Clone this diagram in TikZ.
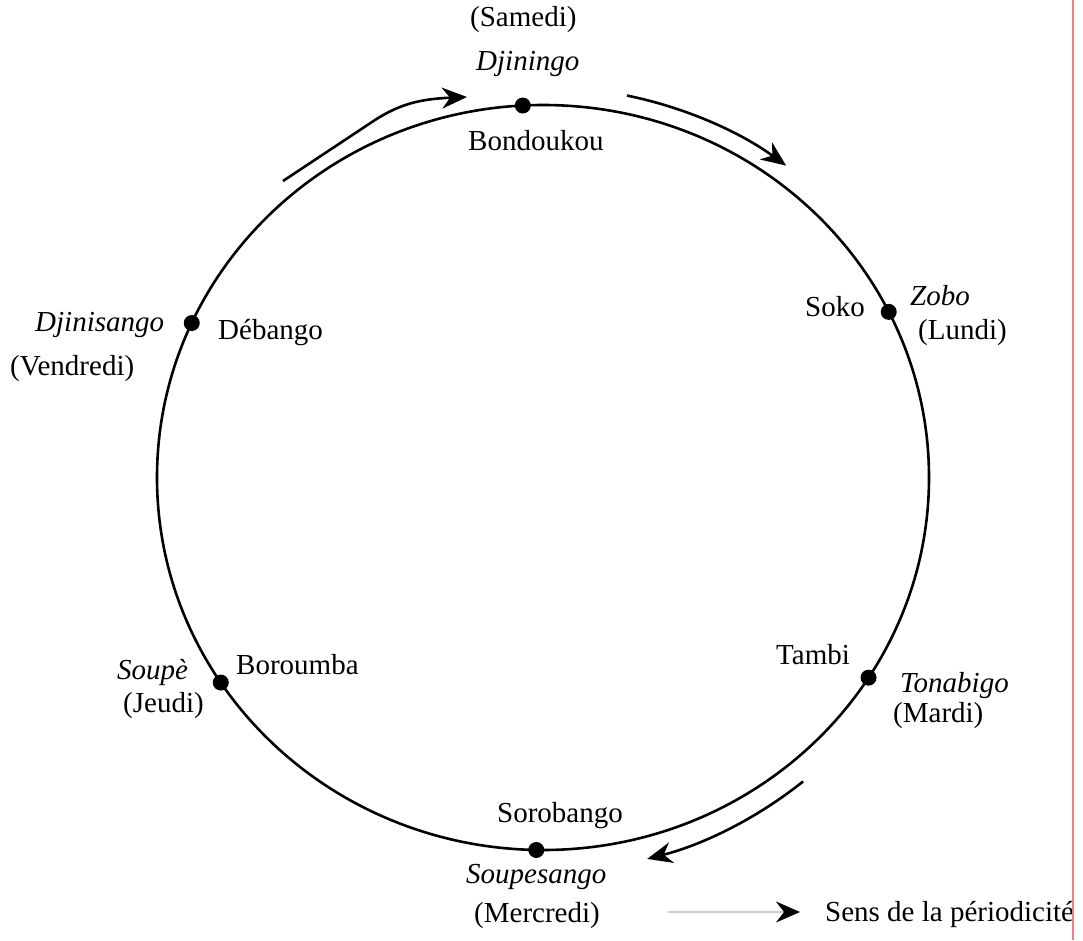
\documentclass[tikz,border=0pt]{standalone}
\usepackage{fontspec}
\setmainfont{Liberation Serif}
\usetikzlibrary{arrows.meta}
\definecolor{edgered}{RGB}{238,128,138}
\definecolor{leggray}{RGB}{205,205,205}
\begin{document}
\begin{tikzpicture}[x=1pt,y=1pt,
  lbl/.style={anchor=base west,inner sep=0pt,font=\fontsize{29}{34}\selectfont},
  ilbl/.style={anchor=base west,inner sep=0pt,font=\fontsize{29}{34}\selectfont\itshape},
  town/.style={circle,fill=black,inner sep=0pt,minimum size=16pt},
  ring/.style={line width=2.6pt},
  flow/.style={line width=2.6pt,-{Stealth[length=25pt,width=21pt,inset=8pt]}},
  legline/.style={draw=leggray,line width=1.8pt,-{Stealth[length=24pt,width=21pt,inset=8pt,color=black]}}]
\useasboundingbox (0,0) rectangle (1083,-940);
\fill[white] (0,0) rectangle (1083,-940);
% ring
\draw[ring] (543,-477.5) ellipse [x radius=386, y radius=372.5];
\begin{scope}[shift={(543,-477.5)}]
  \node[town] (bon) at (93:386 and 372.5) {};
  \node[town] (sok) at (26.4:386 and 372.5) {};
  \node[town] (tam) at (-32.5:386 and 372.5) {};
  \node[town] (sor) at (-91:386 and 372.5) {};
  \node[town] (bor) at (-146.6:386 and 372.5) {};
  \node[town] (deb) at (155.5:386 and 372.5) {};
  % direction arrows
  \coordinate (trA) at (78:404 and 390.5);
  \coordinate (brA) at (-50.4:408 and 394.5);
  \draw[flow] (trA) arc[start angle=78, end angle=53, x radius=404, y radius=390.5];
  \draw[flow] (brA) arc[start angle=-50.4, end angle=-75.2, x radius=408, y radius=394.5];
\end{scope}
\coordinate (tlA) at (283,-181);
\coordinate (tlK) at (375,-120);
\coordinate (tlB) at (467,-97);
\draw[flow] (tlA) -- (tlK) .. controls (400,-104) and (420,-99) .. (tlB);
% labels
\node[lbl]  (samedi) at (470,-26) {(Samedi)};
\node[ilbl] (djiningo) at (476,-70) {Djiningo};
\node[lbl]  (bondoukou) at (468,-150) {Bondoukou};
\node[ilbl] (djinisango) at (35,-331) {Djinisango};
\node[lbl]  (vendredi) at (10,-375) {(Vendredi)};
\node[lbl]  (debango) at (218,-339) {Débango};
\node[lbl]  (soko) at (805,-316) {Soko};
\node[ilbl] (zobo) at (910,-305) {Zobo};
\node[lbl]  (lundi) at (918,-339) {(Lundi)};
\node[lbl]  (tambi) at (776,-664) {Tambi};
\node[ilbl] (tonabigo) at (900,-692) {Tonabigo};
\node[lbl]  (mardi) at (893,-722) {(Mardi)};
\node[ilbl] (soupe) at (117,-679) {Soupè};
\node[lbl]  (jeudi) at (123,-712) {(Jeudi)};
\node[lbl]  (boroumba) at (236,-674) {Boroumba};
\node[lbl]  (sorobango) at (497,-822) {Sorobango};
\node[ilbl] (soupesango) at (466,-883) {Soupesango};
\node[lbl]  (mercredi) at (474,-922) {(Mercredi)};
% legend
\coordinate (legA) at (668,-912);
\coordinate (legB) at (800,-912);
\draw[legline] (legA) -- (legB);
\node[lbl] (legtxt) at (825,-921) {Sens de la périodicité};
% right margin line
\draw[edgered,line width=1.4pt] (1073,0) -- (1073,-940);
\end{tikzpicture}
\end{document}
